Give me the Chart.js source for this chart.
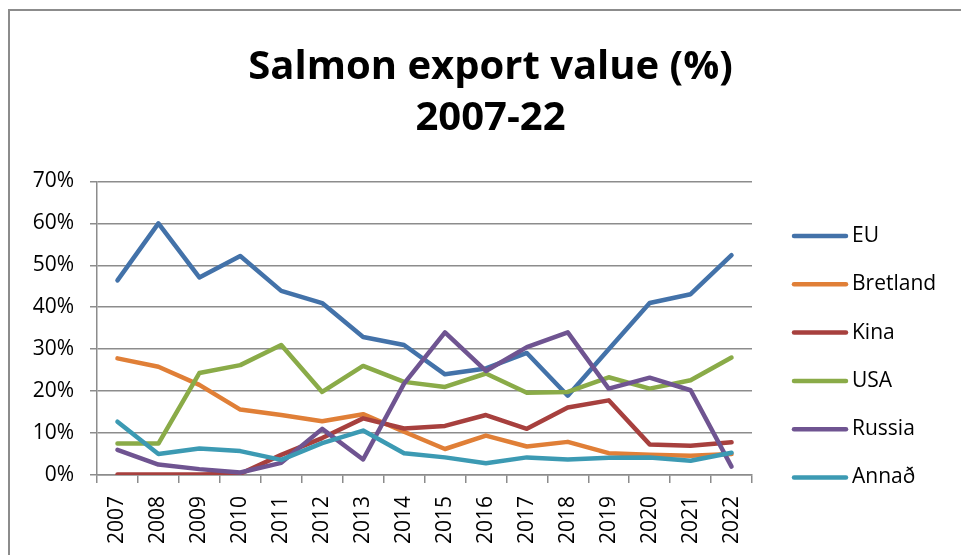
<!DOCTYPE html>
<html>
<head>
<meta charset="utf-8">
<script src="https://cdn.jsdelivr.net/npm/chart.js@4.4.1/dist/chart.umd.min.js"></script>
<style>
  html, body { margin: 0; padding: 0; background: #fff; overflow: hidden; }
  #frame {
    position: absolute; left: 8px; top: 9px;
    width: 980px; height: 560px;
    border-left: 2px solid #8c8c8c; border-top: 2px solid #8c8c8c;
  }
  #wrap { position: absolute; left: 0; top: 0; width: 961px; height: 544px; }
</style>
</head>
<body>
<div id="frame"><div id="wrap"><canvas id="chart"></canvas></div></div>
<script>
// years on the x axis
var years = ['2007','2008','2009','2010','2011','2012','2013','2014',
             '2015','2016','2017','2018','2019','2020','2021','2022'];

// share of salmon export value, in %
var eu       = [46.4, 60.0, 47.1, 52.2, 43.9, 41.0, 32.9, 31.0, 24.0, 25.4, 29.1, 18.9, 30.0, 41.0, 43.1, 52.4];
var bretland = [27.8, 25.8, 21.5, 15.6, 14.3, 12.8, 14.5, 10.3,  6.2,  9.4,  6.8,  7.9,  5.2,  4.8,  4.6,  5.0];
var kina     = [ 0.1,  0.1,  0.1,  0.3,  4.8,  8.8, 13.5, 11.1, 11.7, 14.3, 11.0, 16.1, 17.8,  7.3,  7.0,  7.8];
var usa      = [ 7.5,  7.5, 24.3, 26.2, 31.0, 19.8, 26.0, 22.2, 21.0, 24.2, 19.6, 19.8, 23.3, 20.6, 22.6, 28.0];
var russia   = [ 6.0,  2.5,  1.4,  0.6,  2.9, 11.0,  3.7, 21.8, 34.0, 24.8, 30.5, 34.0, 20.6, 23.2, 20.2,  2.0];
var annad    = [12.7,  5.0,  6.3,  5.7,  3.6,  7.6, 10.6,  5.2,  4.2,  2.8,  4.2,  3.7,  4.1,  4.2,  3.4,  5.3];

var seriesNames  = ['EU', 'Bretland', 'Kina', 'USA', 'Russia', 'Annað'];
var seriesData   = [eu, bretland, kina, usa, russia, annad];
var seriesColors = ['#4372a9', '#e07f37', '#a7403e', '#8aab48', '#6f5491', '#3c9ab3'];

var yTicks = [0, 10, 20, 30, 40, 50, 60, 70];

var FONT = "'Open Sans', 'DejaVu Sans', sans-serif";
var GRID = '#8c8c8c';

var datasets = [];
for (var i = 0; i < seriesNames.length; i++) {
    datasets.push({
        label: seriesNames[i],
        data: seriesData[i],
        borderColor: seriesColors[i],
        backgroundColor: seriesColors[i],
        borderWidth: 4.5,
        pointRadius: 0,
        tension: 0,
        borderCapStyle: 'round',
        borderJoinStyle: 'round',
        order: seriesNames.length - i   // later series on top, like the original
    });
}

// legend drawn at the right, line + name
var sideLegend = {
    id: 'sideLegend',
    afterDraw: function (chart) {
        var ctx = chart.ctx;
        ctx.save();
        ctx.font = '21px ' + FONT;
        ctx.textBaseline = 'middle';
        ctx.textAlign = 'left';
        chart.data.datasets.forEach(function (ds, k) {
            var y = 225 + k * 48.3;
            ctx.strokeStyle = ds.borderColor;
            ctx.lineWidth = 4.5;
            ctx.lineCap = 'round';
            ctx.beginPath();
            ctx.moveTo(784, y);
            ctx.lineTo(836, y);
            ctx.stroke();
            ctx.fillStyle = '#000';
            ctx.fillText(ds.label, 842, y);
        });
        ctx.restore();
    }
};

var ctx = document.getElementById('chart');
var chart = new Chart(ctx, {
    type: 'line',
    data: { labels: years, datasets: datasets },
    options: {
        responsive: true,
        maintainAspectRatio: false,
        animation: false,
        layout: { padding: 0 },
        plugins: {
            legend: { display: false },
            tooltip: { enabled: false },
            title: {
                display: true,
                text: ['Salmon export value (%)', '2007-22'],
                color: '#000',
                font: { family: FONT, size: 40, weight: 'bold', lineHeight: 1.28 },
                padding: { top: 31, bottom: 37 }
            }
        },
        scales: {
            x: {
                offset: true,
                grid: { offset: true, drawOnChartArea: false, color: GRID, lineWidth: 1.5, tickLength: 8 },
                border: { color: GRID, width: 1.5 },
                ticks: {
                    color: '#000', font: { family: FONT, size: 21 },
                    minRotation: 90, maxRotation: 90, padding: 13, autoSkip: false
                },
                afterFit: function (s) { s.height = 80; }
            },
            y: {
                min: 0, max: 70,
                afterBuildTicks: function (s) { s.ticks = yTicks.map(function (v) { return { value: v }; }); },
                grid: { color: GRID, lineWidth: 1.5, tickLength: 7 },
                border: { color: GRID, width: 1.5 },
                ticks: {
                    color: '#000', font: { family: FONT, size: 21 }, padding: 16,
                    callback: function (v) { return v + '%'; }
                },
                afterFit: function (s) { s.width = 87; }
            },
            // empty box on the right that keeps room for the legend
            side: {
                type: 'linear',
                position: 'right',
                grid: { display: false },
                border: { display: false },
                ticks: { display: false },
                afterFit: function (s) { s.width = 219; }
            }
        }
    },
    plugins: [sideLegend]
});
</script>
</body>
</html>
